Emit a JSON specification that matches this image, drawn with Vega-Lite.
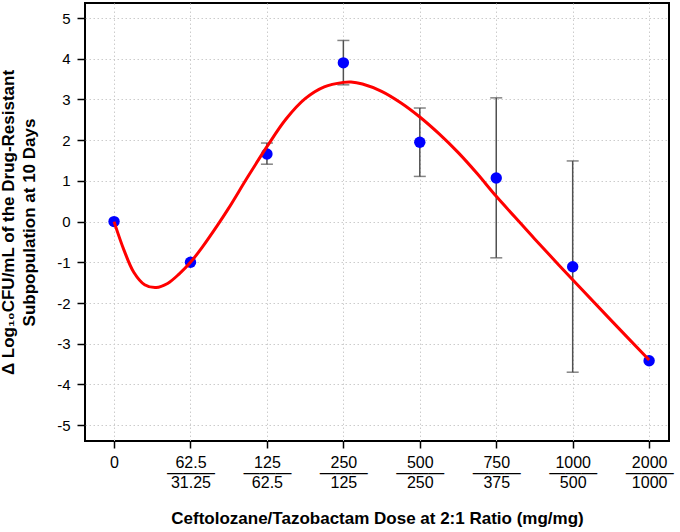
{
  "$schema": "https://vega.github.io/schema/vega-lite/v6.json",
  "width": 584,
  "height": 438,
  "autosize": {"type": "none"},
  "padding": {"left": 85, "top": 3, "right": 11, "bottom": 91},
  "background": "white",
  "config": {
    "font": "Liberation Sans",
    "view": {"stroke": "black", "strokeWidth": 2},
    "axis": {
      "domain": false,
      "tickColor": "black",
      "tickSize": 7,
      "tickWidth": 1.5,
      "labelFont": "Liberation Sans",
      "labelFontSize": 15,
      "labelColor": "black",
      "titleFont": "Liberation Sans",
      "titleFontSize": 17,
      "titleFontWeight": "bold",
      "titleColor": "black",
      "gridColor": "#cccccc",
      "gridDash": [1.5, 2.5],
      "gridWidth": 1
    }
  },
  "datasets": {
    "pts": [
      {"i": 0, "y": 0},
      {"i": 1, "y": -1.0},
      {"i": 2, "y": 1.66, "lo": 1.41, "hi": 1.93},
      {"i": 3, "y": 3.9, "lo": 3.36, "hi": 4.45},
      {"i": 4, "y": 1.95, "lo": 1.11, "hi": 2.79},
      {"i": 5, "y": 1.07, "lo": -0.89, "hi": 3.04},
      {"i": 6, "y": -1.11, "lo": -3.7, "hi": 1.49},
      {"i": 7, "y": -3.42}
    ],
    "curve": [
      {"i": 0, "y": 0},
      {"i": 0.13, "y": -0.7},
      {"i": 0.26, "y": -1.25},
      {"i": 0.4, "y": -1.55},
      {"i": 0.55, "y": -1.62},
      {"i": 0.7, "y": -1.52},
      {"i": 0.85, "y": -1.29},
      {"i": 1.0, "y": -1.0},
      {"i": 1.15, "y": -0.64},
      {"i": 1.35, "y": -0.1},
      {"i": 1.5, "y": 0.33},
      {"i": 1.75, "y": 1.1},
      {"i": 2.0, "y": 1.84},
      {"i": 2.25, "y": 2.52},
      {"i": 2.5, "y": 3.02},
      {"i": 2.75, "y": 3.31},
      {"i": 3.0, "y": 3.42},
      {"i": 3.1, "y": 3.43},
      {"i": 3.25, "y": 3.38},
      {"i": 3.5, "y": 3.2},
      {"i": 3.75, "y": 2.92},
      {"i": 4.0, "y": 2.57},
      {"i": 4.25, "y": 2.16},
      {"i": 4.5, "y": 1.7},
      {"i": 4.75, "y": 1.18},
      {"i": 5.0, "y": 0.62},
      {"i": 5.25, "y": 0.1},
      {"i": 5.5, "y": -0.42},
      {"i": 6.0, "y": -1.43},
      {"i": 6.5, "y": -2.42},
      {"i": 7.0, "y": -3.4}
    ]
  },
  "encoding": {
    "x": {
      "field": "i", "type": "quantitative",
      "scale": {"domain": [-0.38, 7.26], "nice": false, "zero": false},
      "axis": {
        "values": [0, 1, 2, 3, 4, 5, 6, 7],
        "title": "Ceftolozane/Tazobactam Dose at 2:1 Ratio (mg/mg)",
        "titlePadding": 20,
        "labelFontSize": 16,
        "labelPadding": 6,
        "labelLineHeight": 10,
        "labelBaseline": "top",
        "labelExpr": "[['0'],['62.5','———','31.25'],['125','———','62.5'],['250','———','125'],['500','———','250'],['750','———','375'],['1000','———','500'],['2000','———','1000']][datum.value]"
      }
    }
  },
  "layer": [
    {
      "data": {"name": "curve"},
      "mark": {"type": "line", "color": "#ff0000", "strokeWidth": 3, "opacity": 0},
      "encoding": {
        "y": {
          "field": "y", "type": "quantitative",
          "scale": {"domain": [-5.39, 5.37], "nice": false, "zero": false},
          "axis": {
            "values": [-5, -4, -3, -2, -1, 0, 1, 2, 3, 4, 5],
            "title": ["Δ Log₁₀CFU/mL of the Drug-Resistant", "Subpopulation at 10 Days"],
            "titleLineHeight": 21,
            "titlePadding": 18,
            "tickSize": 8,
            "labelPadding": 7,
            "labelExpr": "datum.value < 0 ? '-' + abs(datum.value) : '' + datum.value"
          }
        }
      }
    },
    {
      "data": {"name": "pts"},
      "transform": [{"filter": "isValid(datum.lo)"}],
      "mark": {"type": "rule", "color": "#505050", "strokeWidth": 1.5},
      "encoding": {
        "y": {"field": "lo", "type": "quantitative", "title": ["Δ Log₁₀CFU/mL of the Drug-Resistant", "Subpopulation at 10 Days"]},
        "y2": {"field": "hi"}
      }
    },
    {
      "data": {"name": "pts"},
      "transform": [{"filter": "isValid(datum.lo)"}],
      "mark": {"type": "tick", "color": "#505050", "thickness": 1.5, "size": 12, "orient": "horizontal"},
      "encoding": {
        "y": {"field": "lo", "type": "quantitative", "title": ["Δ Log₁₀CFU/mL of the Drug-Resistant", "Subpopulation at 10 Days"]}
      }
    },
    {
      "data": {"name": "pts"},
      "transform": [{"filter": "isValid(datum.hi)"}],
      "mark": {"type": "tick", "color": "#505050", "thickness": 1.5, "size": 12, "orient": "horizontal"},
      "encoding": {
        "y": {"field": "hi", "type": "quantitative", "title": ["Δ Log₁₀CFU/mL of the Drug-Resistant", "Subpopulation at 10 Days"]}
      }
    },
    {
      "data": {"name": "pts"},
      "mark": {"type": "circle", "color": "#0000ff", "opacity": 1, "size": 130},
      "encoding": {
        "y": {"field": "y", "type": "quantitative", "title": ["Δ Log₁₀CFU/mL of the Drug-Resistant", "Subpopulation at 10 Days"]}
      }
    },
    {
      "data": {"name": "curve"},
      "mark": {"type": "line", "color": "#ff0000", "strokeWidth": 3, "interpolate": "catmull-rom"},
      "encoding": {
        "y": {"field": "y", "type": "quantitative", "title": ["Δ Log₁₀CFU/mL of the Drug-Resistant", "Subpopulation at 10 Days"]}
      }
    }
  ]
}
